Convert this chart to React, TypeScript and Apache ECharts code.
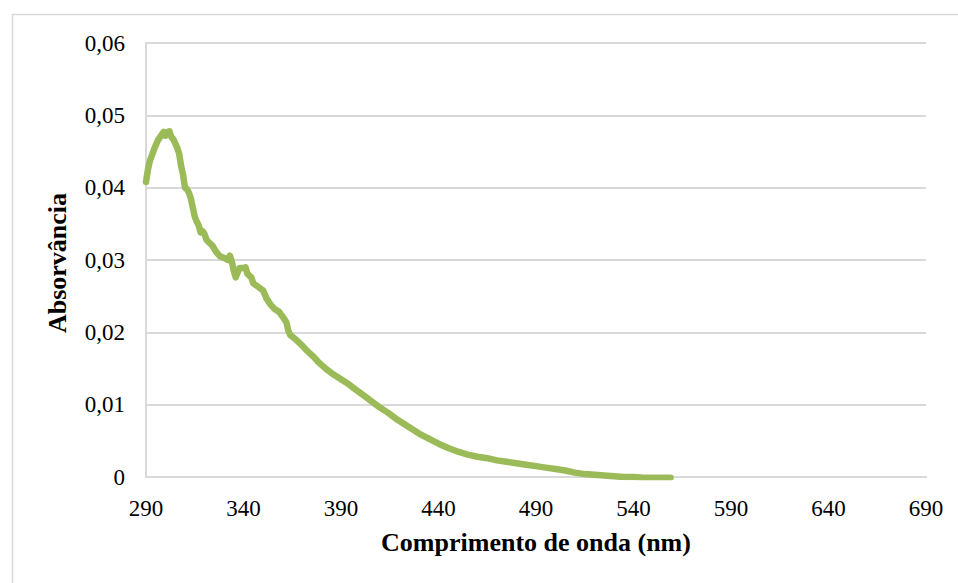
import React, { useEffect, useRef } from "react";
import * as echarts from "echarts";

const wavelengths: number[] = [
  290, 291, 292, 294, 296, 298, 299, 300, 301, 302, 303, 304, 306, 307, 308, 309, 310, 311, 312, 313,
  315, 316, 317, 318, 319, 320, 321, 322, 324, 326, 328, 330, 332, 333, 334, 335, 336, 337, 338, 340,
  341, 342, 344, 345, 346, 348, 350, 352, 354, 356, 358, 360, 362, 363, 364, 366, 368, 370, 372, 374,
  376, 378, 380, 383, 386, 390, 393, 396, 400, 403, 406, 410, 414, 418, 422, 426, 430, 435, 440, 445,
  450, 455, 460, 465, 470, 475, 480, 485, 490, 495, 500, 505, 510, 515, 520, 525, 530, 535, 540, 545,
  550, 555, 559,
];
const absorbance: number[] = [
  0.0408, 0.0425, 0.0437, 0.0452, 0.0465, 0.0473, 0.0477, 0.0472, 0.0477, 0.0478, 0.0470, 0.0467, 0.0455, 0.0447, 0.0430, 0.0418, 0.0400, 0.0398, 0.0393, 0.0385,
  0.0360, 0.0353, 0.0348, 0.0338, 0.0340, 0.0336, 0.0328, 0.0325, 0.0320, 0.0311, 0.0305, 0.0303, 0.0300, 0.0306, 0.0298, 0.0285, 0.0276, 0.0283, 0.0289, 0.0289,
  0.0290, 0.0281, 0.0276, 0.0268, 0.0266, 0.0262, 0.0258, 0.0246, 0.0238, 0.0232, 0.0229, 0.0222, 0.0214, 0.0202, 0.0196, 0.0192, 0.0187, 0.0182, 0.0176, 0.0171,
  0.0166, 0.0160, 0.0155, 0.0148, 0.0142, 0.0135, 0.0130, 0.0124, 0.0116, 0.0110, 0.0104, 0.0096, 0.0089, 0.0081, 0.0074, 0.0067, 0.0060, 0.0053, 0.0046, 0.0040,
  0.0035, 0.0031, 0.0028, 0.0026, 0.0023, 0.0021, 0.0019, 0.0017, 0.0015, 0.0013, 0.0011, 0.0009, 0.0006, 0.0004, 0.0003, 0.0002, 0.0001, 0.0000, 0.0000, -0.0001,
  -0.0001, -0.0001, -0.0001,
];

const xStart = 290;
const xEnd = 690;
const xStep = 50;
const yMax = 0.06;
const yStep = 0.01;

const xTitle = "Comprimento de onda (nm)";
const yTitle = "Absorvância";

export default function App() {
  const ref = useRef<HTMLDivElement>(null);
  useEffect(() => {
    if (!ref.current) return;
    const chart = echarts.init(ref.current, null, { renderer: "svg" });
    const font = "'Liberation Serif', 'Times New Roman', serif";
    const data = wavelengths.map((w, i) => [w - xStart, absorbance[i]]);
    chart.setOption({
      animation: false,
      backgroundColor: "#ffffff",
      grid: { left: 146, right: 32, top: 43, bottom: 106 },
      xAxis: {
        type: "value",
        min: 0,
        max: xEnd - xStart,
        interval: xStep,
        axisLine: { show: true, lineStyle: { color: "#d9d9d9", width: 2 } },
        axisTick: { show: false },
        splitLine: { show: false },
        axisLabel: {
          color: "#000",
          fontFamily: font,
          fontSize: 23,
          margin: 20,
          formatter: (v: number) => String(v + xStart),
        },
      },
      yAxis: {
        type: "value",
        min: 0,
        max: yMax,
        interval: yStep,
        axisLine: { show: true, lineStyle: { color: "#d9d9d9", width: 2 } },
        axisTick: { show: false },
        splitLine: { show: true, lineStyle: { color: "#d9d9d9", width: 2 } },
        axisLabel: {
          color: "#000",
          fontFamily: font,
          fontSize: 23,
          margin: 21,
          formatter: (v: number) => (Math.abs(v) < 1e-9 ? "0" : v.toFixed(2).replace(".", ",")),
        },
      },
      graphic: [
        {
          type: "rect",
          shape: { x: 12.5, y: 14.5, width: 1200, height: 1200 },
          style: { fill: "none", stroke: "#d9d9d9", lineWidth: 1.5 },
          silent: true,
          z: -10,
        },
        {
          type: "text",
          x: 536,
          y: 542,
          style: {
            text: xTitle,
            font: `bold 26px ${font}`,
            fill: "#000",
            textAlign: "center",
            textVerticalAlign: "middle",
          },
        },
        {
          type: "text",
          x: 57,
          y: 263,
          rotation: Math.PI / 2,
          style: {
            text: yTitle,
            font: `bold 26px ${font}`,
            fill: "#000",
            textAlign: "center",
            textVerticalAlign: "middle",
          },
        },
      ],
      series: [
        {
          type: "line",
          data,
          showSymbol: false,
          smooth: false,
          lineStyle: { color: "#9bbb59", width: 6.5, cap: "round", join: "round" },
          itemStyle: { color: "#9bbb59" },
        },
      ],
    });
    return () => chart.dispose();
  }, []);
  return (
    <div
      ref={ref}
      style={{ position: "fixed", left: 0, top: 0, width: 958, height: 583 }}
    />
  );
}
